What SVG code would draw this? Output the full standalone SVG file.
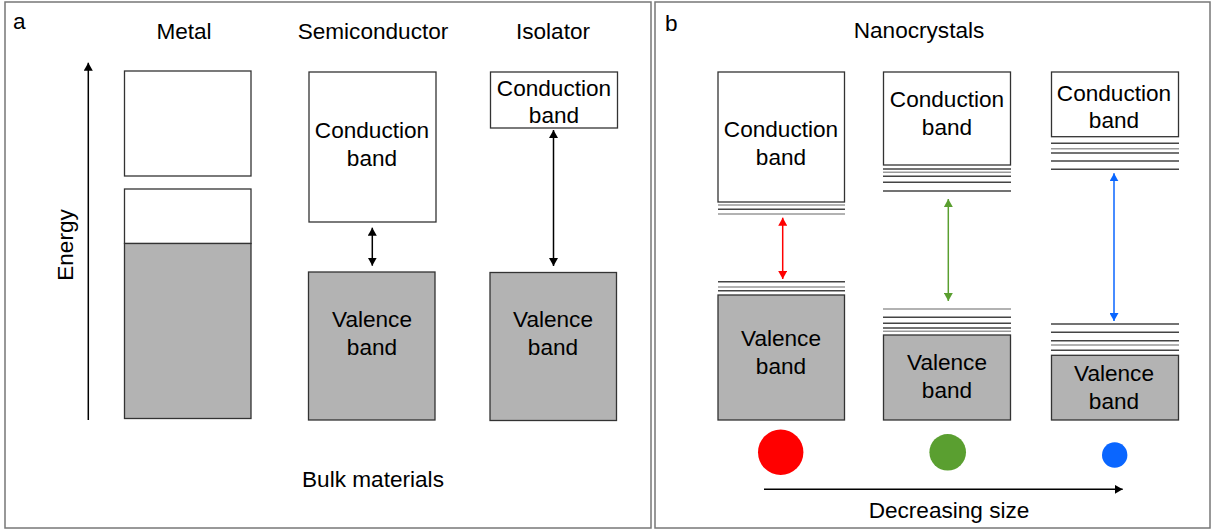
<svg xmlns="http://www.w3.org/2000/svg" width="1215" height="532" viewBox="0 0 1215 532">
<style>
text{font-family:"Liberation Sans",Arial,sans-serif;font-size:22.6px;fill:#000;text-anchor:middle}
.lbl{text-anchor:start}
.panel{fill:#fff;stroke:#777;stroke-width:1.5}
.cb{fill:#fff;stroke:#333;stroke-width:1.3}
.vb{fill:#b3b3b3;stroke:#333;stroke-width:1.3}
.lv{stroke:#444;stroke-width:1.5}
.lg{stroke:#999;stroke-width:1.5}
.ak{stroke:#000;stroke-width:1.5;fill:none}
</style>
<defs>
<marker id="mk" markerUnits="userSpaceOnUse" markerWidth="9" markerHeight="9" refX="8" refY="4.5" orient="auto-start-reverse"><path d="M0,0 L8,4.5 L0,9 z" fill="#000"/></marker>
<marker id="mr" markerUnits="userSpaceOnUse" markerWidth="9" markerHeight="9" refX="8" refY="4.5" orient="auto-start-reverse"><path d="M0,0 L8,4.5 L0,9 z" fill="#ff0000"/></marker>
<marker id="mg" markerUnits="userSpaceOnUse" markerWidth="9" markerHeight="9" refX="8" refY="4.5" orient="auto-start-reverse"><path d="M0,0 L8,4.5 L0,9 z" fill="#5a9f30"/></marker>
<marker id="mb" markerUnits="userSpaceOnUse" markerWidth="9" markerHeight="9" refX="8" refY="4.5" orient="auto-start-reverse"><path d="M0,0 L8,4.5 L0,9 z" fill="#0a66ff"/></marker>
</defs>
<rect class="panel" x="5" y="2" width="646" height="526"/>
<rect class="panel" x="655" y="2" width="555" height="526"/>
<text class="lbl" x="13" y="29">a</text>
<text class="lbl" x="665" y="31">b</text>
<text x="184" y="39">Metal</text>
<text x="373" y="39">Semiconductor</text>
<text x="553" y="39">Isolator</text>
<text x="373" y="487">Bulk materials</text>
<text x="919" y="38">Nanocrystals</text>
<text x="949" y="518">Decreasing size</text>
<text transform="translate(73,245) rotate(-90)">Energy</text>

<g id="metal">
<rect class="cb" x="124.5" y="71" width="126.5" height="105"/>
<rect class="cb" x="124.5" y="189" width="126.5" height="54.5"/>
<rect class="vb" x="124.5" y="243.5" width="126.5" height="175"/>
</g>
<g id="semi-cb">
<rect class="cb" x="309" y="72" width="127" height="150"/>
<text x="372" y="138">Conduction</text><text x="372" y="166">band</text>
</g>
<g id="semi-vb">
<rect class="vb" x="308.5" y="272" width="126.5" height="148"/>
<text x="372" y="327">Valence</text><text x="372" y="355">band</text>
</g>
<g id="iso-cb">
<rect class="cb" x="490.5" y="72" width="127" height="56"/>
<text x="554" y="96">Conduction</text><text x="554" y="123">band</text>
</g>
<g id="iso-vb">
<rect class="vb" x="490" y="272.5" width="126.5" height="148"/>
<text x="553" y="327">Valence</text><text x="553" y="355">band</text>
</g>

<g id="nc1">
<rect class="cb" x="718" y="72" width="126.5" height="130"/>
<text x="781" y="137">Conduction</text><text x="781" y="165">band</text>
<line class="lg" x1="718" x2="845" y1="205" y2="205"/>
<line class="lv" x1="718" x2="845" y1="209.3" y2="209.3"/>
<line class="lg" x1="718" x2="845" y1="214" y2="214"/>
<line class="lv" x1="718" x2="845" y1="281.7" y2="281.7"/>
<line class="lg" x1="718" x2="845" y1="287" y2="287"/>
<line class="lv" x1="718" x2="845" y1="290.7" y2="290.7"/>
<rect class="vb" x="718" y="295" width="126.5" height="125"/>
<text x="781" y="346">Valence</text><text x="781" y="374">band</text>
<circle cx="780.7" cy="452.3" r="22.7" fill="#ff0000"/>
</g>
<g id="nc2">
<rect class="cb" x="883.5" y="72" width="127" height="93"/>
<text x="947" y="107">Conduction</text><text x="947" y="135">band</text>
<line class="lv" x1="883" x2="1011" y1="169" y2="169"/>
<line class="lg" x1="883" x2="1011" y1="172.3" y2="172.3"/>
<line class="lv" x1="883" x2="1011" y1="176.3" y2="176.3"/>
<line class="lv" x1="883" x2="1011" y1="182.3" y2="182.3"/>
<line class="lv" x1="883" x2="1011" y1="191" y2="191"/>
<line class="lg" x1="883" x2="1011" y1="309" y2="309"/>
<line class="lv" x1="883" x2="1011" y1="317.3" y2="317.3"/>
<line class="lv" x1="883" x2="1011" y1="323.3" y2="323.3"/>
<line class="lv" x1="883" x2="1011" y1="328" y2="328"/>
<line class="lg" x1="883" x2="1011" y1="331.3" y2="331.3"/>
<rect class="vb" x="883.5" y="335" width="127" height="85"/>
<text x="947" y="370">Valence</text><text x="947" y="398">band</text>
<circle cx="947.7" cy="452.3" r="18.3" fill="#5a9f30"/>
</g>
<g id="nc3">
<rect class="cb" x="1051.5" y="72" width="127" height="64.7"/>
<text x="1114" y="101">Conduction</text><text x="1114" y="128">band</text>
<line class="lv" x1="1051" x2="1179" y1="143.3" y2="143.3"/>
<line class="lg" x1="1051" x2="1179" y1="148.7" y2="148.7"/>
<line class="lv" x1="1051" x2="1179" y1="153" y2="153"/>
<line class="lv" x1="1051" x2="1179" y1="161" y2="161"/>
<line class="lv" x1="1051" x2="1179" y1="169.3" y2="169.3"/>
<line class="lv" x1="1051" x2="1179" y1="324" y2="324"/>
<line class="lv" x1="1051" x2="1179" y1="332.3" y2="332.3"/>
<line class="lv" x1="1051" x2="1179" y1="340.7" y2="340.7"/>
<line class="lg" x1="1051" x2="1179" y1="345" y2="345"/>
<line class="lv" x1="1051" x2="1179" y1="350.3" y2="350.3"/>
<rect class="vb" x="1051.5" y="355.3" width="127" height="64.7"/>
<text x="1114" y="381">Valence</text><text x="1114" y="409">band</text>
<circle cx="1114.7" cy="455" r="12.7" fill="#0a66ff"/>
</g>

<g id="connectors">
<line class="ak" x1="88.3" y1="420" x2="88.3" y2="62.7" marker-end="url(#mk)"/>
<line class="ak" x1="372.3" y1="227.7" x2="372.3" y2="265.7" marker-start="url(#mk)" marker-end="url(#mk)"/>
<line class="ak" x1="553.5" y1="130" x2="553.5" y2="266" marker-start="url(#mk)" marker-end="url(#mk)"/>
<line x1="782.7" y1="217.7" x2="782.7" y2="279" stroke="#ff0000" stroke-width="1.5" marker-start="url(#mr)" marker-end="url(#mr)"/>
<line x1="948.3" y1="199" x2="948.3" y2="301" stroke="#5a9f30" stroke-width="1.5" marker-start="url(#mg)" marker-end="url(#mg)"/>
<line x1="1114" y1="173.3" x2="1114" y2="321" stroke="#0a66ff" stroke-width="1.5" marker-start="url(#mb)" marker-end="url(#mb)"/>
<line class="ak" x1="764" y1="489.3" x2="1122.7" y2="489.3" marker-end="url(#mk)"/>
</g>
</svg>
